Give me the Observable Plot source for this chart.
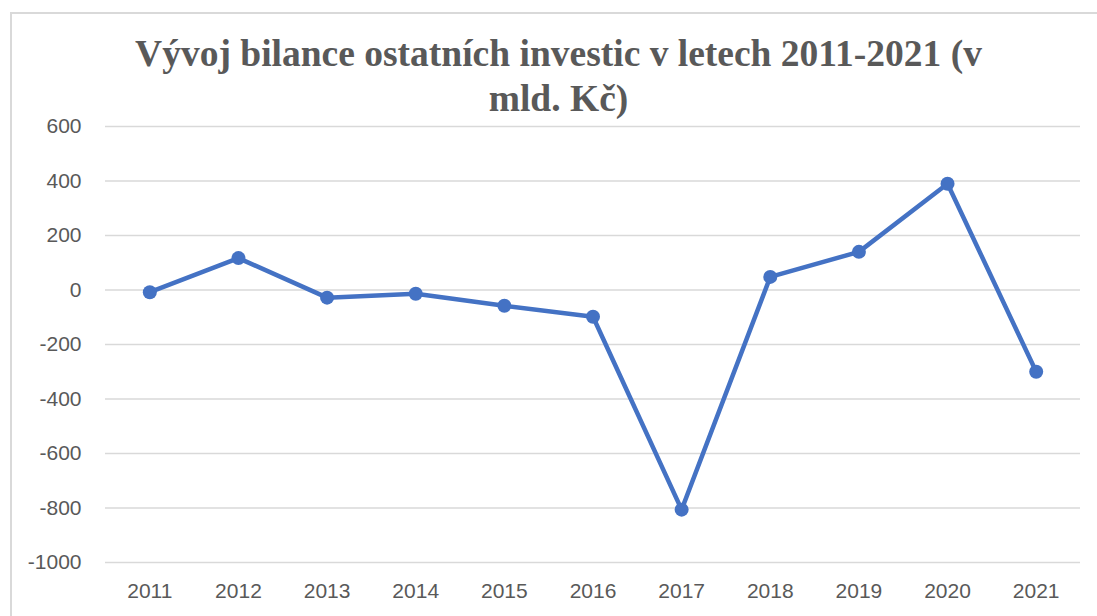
<!DOCTYPE html>
<html>
<head>
<meta charset="utf-8">
<script src="https://cdn.jsdelivr.net/npm/d3@7"></script>
<script src="https://cdn.jsdelivr.net/npm/@observablehq/plot@0.6"></script>
<style>
  html, body { margin: 0; padding: 0; background: #fff; overflow: hidden; }
  #wrap { position: relative; width: 1097px; height: 616px; }
  #frame { position: absolute; left: 10px; top: 12px; width: 1100px; height: 620px; border: 2px solid #d9d9d9; box-sizing: border-box; }
  #title { position: absolute; left: 10px; top: 0; width: 1097px; height: 110px; text-align: center;
           font-family: "Liberation Serif", "Times New Roman", serif; font-weight: bold; font-size: 37.5px;
           line-height: 45px; color: #595959; padding-top: 31px; box-sizing: border-box; white-space: nowrap; }
  #chart { position: absolute; left: 0; top: 110px; }
</style>
</head>
<body>
<div id="wrap">
  <div id="frame"></div>
  <div id="title">Vývoj bilance ostatních investic v letech 2011-2021 (v<br>mld. Kč)</div>
  <div id="chart"></div>
</div>
<script>
const years = ["2011","2012","2013","2014","2015","2016","2017","2018","2019","2020","2021"];
const values = [-8, 117, -28, -14, -58, -98, -806, 48, 140, 390, -300];
const yTicks = [-1000, -800, -600, -400, -200, 0, 200, 400, 600];

const data = years.map((y, i) => ({year: y, value: values[i]}));

const chart = Plot.plot({
  width: 1097,
  height: 506,
  marginLeft: 105,
  marginRight: 17,
  marginTop: 16,
  marginBottom: 54,
  style: {fontFamily: "'Liberation Sans', Arial, sans-serif", fontSize: "21px", color: "#595959", background: "transparent"},
  x: {type: "point", domain: years, padding: 0.5, round: false, label: null},
  y: {domain: [-1000, 600], label: null},
  marks: [
    Plot.ruleY(yTicks, {stroke: "#d9d9d9", strokeWidth: 1.6}),
    Plot.axisY({ticks: yTicks, tickSize: 0, tickPadding: 24, label: null, tickFormat: d => String(d)}),
    Plot.axisX({tickSize: 0, tickPadding: 21, label: null}),
    Plot.line(data, {x: "year", y: "value", stroke: "#4472C4", strokeWidth: 4.5, strokeLinejoin: "round"}),
    Plot.dot(data, {x: "year", y: "value", fill: "#4472C4", r: 7})
  ]
});
document.getElementById("chart").appendChild(chart);
</script>
</body>
</html>
